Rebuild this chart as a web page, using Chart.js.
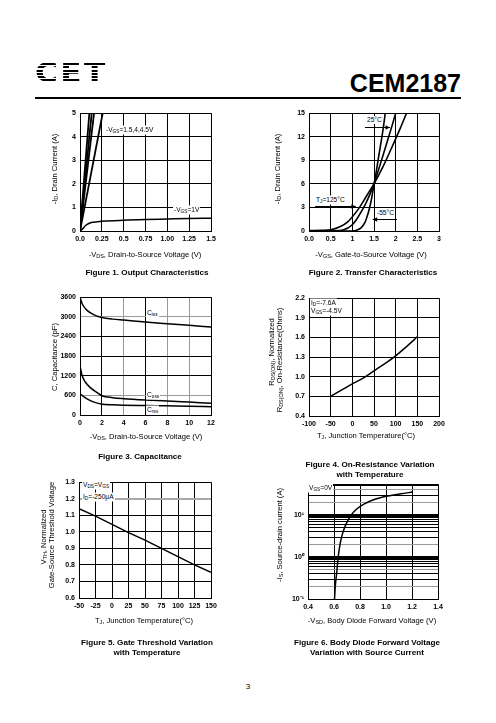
<!DOCTYPE html>
<html><head><meta charset="utf-8">
<script src="https://cdn.jsdelivr.net/npm/chart.js@4.4.1/dist/chart.umd.min.js"></script>
<style>
html,body{margin:0;padding:0;background:#fff}
body{width:496px;height:723px;position:relative;overflow:hidden;font-family:"Liberation Sans",Arial,sans-serif;color:#000}
canvas{position:absolute}
.t{position:absolute;white-space:nowrap;font-size:7.6px;line-height:1;transform:translate(-50%,-50%);color:#000}
.rot{transform:translate(-50%,-50%) rotate(-90deg)}
.cap{font-weight:bold;font-size:8.1px}
.lab{position:absolute;white-space:nowrap;font-size:6.6px;line-height:8px;background:#fff;padding:0 1px;transform:translateY(-50%);color:#000}
.s{font-size:72%;position:relative;top:1px}
#logo{position:absolute;left:35px;top:60px;font:900 26px "DejaVu Sans",sans-serif;letter-spacing:2px;line-height:26px;color:transparent;background:repeating-linear-gradient(to bottom,#000 0px,#000 2px,transparent 2px,transparent 3.2px);-webkit-background-clip:text;background-clip:text;transform:scaleX(1.2);transform-origin:0 0}
#part{position:absolute;right:35px;top:71px;font:bold 25px "Liberation Sans",Arial,sans-serif;line-height:1;color:#000}
#rule{position:absolute;left:35px;top:97px;width:426px;height:1.5px;background:#000}
#pg{position:absolute;left:248px;top:686px;font-size:8px;transform:translate(-50%,-50%);color:#000}
</style></head><body>
<div id="logo">CET</div>
<div id="part">CEM2187</div>
<div id="rule"></div>

<!-- Figure 1 texts -->
<div class="t rot" style="left:55px;top:169px">-I<span class="s">D</span>, Drain Current (A)</div>
<div class="t" style="left:145px;top:255px">-V<span class="s">DS</span>, Drain-to-Source Voltage (V)</div>
<div class="t cap" style="left:147px;top:273px">Figure 1. Output Characteristics</div>
<div class="lab" style="left:105px;top:130px">-V<span class="s">GS</span>=1.5,4,4.5V</div>
<div class="lab" style="left:173px;top:210px">-V<span class="s">GS</span>=1V</div>

<!-- Figure 2 texts -->
<div class="t rot" style="left:278px;top:169px">-I<span class="s">D</span>, Drain Current (A)</div>
<div class="t" style="left:371px;top:255px">-V<span class="s">GS</span>, Gate-to-Source Voltage (V)</div>
<div class="t cap" style="left:373px;top:273px">Figure 2. Transfer Characteristics</div>
<div class="lab" style="left:366px;top:120px">25°C</div>
<div class="lab" style="left:315px;top:200px">T<span class="s">J</span>=125°C</div>
<div class="lab" style="left:376px;top:213px">-55°C</div>

<!-- Figure 3 texts -->
<div class="t rot" style="left:55px;top:357px">C, Capacitance (pF)</div>
<div class="t" style="left:146px;top:437px">-V<span class="s">DS</span>, Drain-to-Source Voltage (V)</div>
<div class="t cap" style="left:140px;top:457px">Figure 3. Capacitance</div>
<div class="lab" style="left:146px;top:313px">C<span class="s">iss</span></div>
<div class="lab" style="left:146px;top:395px">C<span class="s">oss</span></div>
<div class="lab" style="left:146px;top:410px">C<span class="s">rss</span></div>

<!-- Figure 4 texts -->
<div class="t rot" style="left:272px;top:352px">R<span class="s">DS(ON)</span>, Normalized</div>
<div class="t rot" style="left:280px;top:360px">R<span class="s">DS(ON)</span>, On-Resistance(Ohms)</div>
<div class="t" style="left:366px;top:436px">T<span class="s">J</span>, Junction Temperature(°C)</div>
<div class="t cap" style="left:370px;top:465px">Figure 4. On-Resistance Variation</div>
<div class="t cap" style="left:370px;top:475px">with Temperature</div>
<div class="lab" style="left:310px;top:303px">I<span class="s">D</span>=-7.6A</div>
<div class="lab" style="left:310px;top:311px">V<span class="s">GS</span>=-4.5V</div>

<!-- Figure 5 texts -->
<div class="t rot" style="left:44px;top:537px">V<span class="s">TH</span>, Normalized</div>
<div class="t rot" style="left:52px;top:535px">Gate-Source Threshold Voltage</div>
<div class="t" style="left:144px;top:621px">T<span class="s">J</span>, Junction Temperature(°C)</div>
<div class="t cap" style="left:147px;top:643px">Figure 5. Gate Threshold Variation</div>
<div class="t cap" style="left:147px;top:653px">with Temperature</div>
<div class="lab" style="left:82px;top:485px">V<span class="s">DS</span>=V<span class="s">GS</span></div>
<div class="lab" style="left:82px;top:497px">I<span class="s">D</span>=-250μA</div>

<!-- Figure 6 texts -->
<div class="t rot" style="left:280px;top:535px">-I<span class="s">S</span>, Source-drain current (A)</div>
<div class="t" style="left:372px;top:621px">-V<span class="s">SD</span>, Body Diode Forward Voltage (V)</div>
<div class="t cap" style="left:367px;top:643px">Figure 6. Body Diode Forward Voltage</div>
<div class="t cap" style="left:367px;top:653px">Variation with Source Current</div>
<div class="lab" style="left:308px;top:488px">V<span class="s">GS</span>=0V</div>

<div id="pg">3</div>

<script>
// ---------------- DATA ----------------
// Figure 1: Output characteristics
const fig1Vds1V = [0, 0.03, 0.06, 0.1, 0.13, 0.2, 0.3, 0.5, 0.75, 1.0, 1.25, 1.5];
const fig1Id1V  = [0, 0.09, 0.22, 0.32, 0.36, 0.39, 0.42, 0.46, 0.49, 0.51, 0.53, 0.54];
const fig1SteepEndVds = [0.107, 0.134, 0.161, 0.26];   // -VDS where each high-VGS line reaches 5 A
const fig1SteepEndId  = [5, 5, 5, 5];
const fig1XTicks = [0, 0.25, 0.5, 0.75, 1.0, 1.25, 1.5];
const fig1XLabels = ['0.0', '0.25', '0.5', '0.75', '1.00', '1.25', '1.5'];
const fig1YTicks = [0, 1, 2, 3, 4, 5];
const fig1YLabels = ['0', '1', '2', '3', '4', '5'];

// Figure 2: Transfer characteristics
const fig2VgsM55 = [0, 1.0, 1.1, 1.2, 1.3, 1.35, 1.4, 1.45, 1.5, 1.55, 1.6, 1.65, 1.7, 1.76];
const fig2IdM55  = [0, 0, 0.1, 0.4, 1.2, 2.0, 3.0, 4.3, 5.9, 7.5, 9.2, 10.9, 12.6, 15];
const fig2Vgs25  = [0.5, 0.8, 1.0, 1.1, 1.2, 1.3, 1.4, 1.5, 1.6, 1.7, 1.8, 1.9, 2.0];
const fig2Id25   = [0, 0.15, 0.8, 1.5, 2.4, 3.4, 4.6, 6.0, 7.7, 9.5, 11.3, 13.1, 15];
const fig2Vgs125 = [0, 0.3, 0.5, 0.7, 0.9, 1.1, 1.2, 1.3, 1.4, 1.5, 1.7, 1.9, 2.1, 2.25];
const fig2Id125  = [0.05, 0.08, 0.15, 0.5, 1.2, 2.5, 3.3, 4.2, 5.1, 6.0, 8.1, 10.5, 13.0, 15];
const fig2XTicks = [0, 0.5, 1, 1.5, 2, 2.5, 3];
const fig2XLabels = ['0.0', '0.5', '1', '1.5', '2', '2.5', '3'];
const fig2YTicks = [0, 3, 6, 9, 12, 15];
const fig2YLabels = ['0', '3', '6', '9', '12', '15'];
// arrows: [x1, y1, x2, y2] in data units
const fig2Arrow25  = [1.29, 13.3, 1.87, 13.3];
const fig2Arrow125 = [0.14, 3.2, 1.08, 3.2];
const fig2ArrowM55 = [2.03, 1.5, 1.47, 1.5];

// Figure 3: Capacitance
const fig3Vds  = [0, 0.2, 0.5, 1, 1.5, 2, 3, 4, 6, 8, 10, 12];
const fig3Ciss = [3600, 3400, 3250, 3110, 3030, 2980, 2930, 2900, 2840, 2790, 2740, 2690];
const fig3Coss = [1500, 1200, 1000, 820, 700, 590, 530, 500, 460, 430, 395, 360];
const fig3Crss = [650, 600, 520, 430, 370, 330, 310, 300, 290, 280, 270, 255];
const fig3XTicks = [0, 2, 4, 6, 8, 10, 12];
const fig3XLabels = ['0', '2', '4', '6', '8', '10', '12'];
const fig3YTicks = [0, 600, 1200, 1800, 2400, 3000, 3600];
const fig3YLabels = ['0', '600', '1200', '1800', '2400', '3000', '3600'];
const fig3GrayX = [4, 8, 10];
const fig3GrayY = [600, 3000];

// Figure 4: On-resistance vs temperature
const fig4Tj  = [-50, 0, 25, 50, 75, 100, 125, 150];
const fig4Rds = [0.70, 0.89, 0.98, 1.09, 1.20, 1.32, 1.46, 1.61];
const fig4XTicks = [-100, -50, 0, 50, 100, 150, 200];
const fig4XLabels = ['-100', '-50', '0', '50', '100', '150', '200'];
const fig4YTicks = [0.4, 0.7, 1.0, 1.3, 1.6, 1.9, 2.2];
const fig4YLabels = ['0.4', '0.7', '1.0', '1.3', '1.6', '1.9', '2.2'];

// Figure 5: Gate threshold vs temperature
const fig5Tj  = [-50, -25, 0, 25, 50, 75, 100, 125, 150];
const fig5Vth = [1.14, 1.095, 1.045, 0.995, 0.95, 0.90, 0.85, 0.80, 0.755];
const fig5XTicks = [-50, -25, 0, 25, 50, 75, 100, 125, 150];
const fig5XLabels = ['-50', '-25', '0', '25', '50', '75', '100', '125', '150'];
const fig5YTicks = [0.6, 0.7, 0.8, 0.9, 1.0, 1.1, 1.2, 1.3];
const fig5YLabels = ['0.6', '0.7', '0.8', '0.9', '1.0', '1.1', '1.2', '1.3'];

// Figure 6: Body diode forward voltage
const fig6Vsd = [0.604, 0.611, 0.622, 0.630, 0.642, 0.660, 0.686, 0.726, 0.770, 0.834, 0.910, 1.013, 1.114, 1.204];
const fig6Is  = [0.1, 0.22, 0.46, 0.87, 1.66, 3.16, 5.5, 9.5, 13.7, 18.7, 23.8, 28.7, 32.5, 35.7];
const fig6XTicks = [0.4, 0.6, 0.8, 1.0, 1.2, 1.4];
const fig6XLabels = ['0.4', '0.6', '0.8', '1.0', '1.2', '1.4'];
const fig6YTicks = [0.1, 0.2, 0.3, 0.4, 0.5, 0.6, 0.7, 0.8, 0.9, 1, 2, 3, 4, 5, 6, 7, 8, 9, 10, 20, 30, 40, 50, 55];
const fig6YLabelVals = [0.1, 1, 10];
const fig6YLabels = ['10\u207B\u00B9', '10\u2070', '10\u00B9'];
const fig6GrayY = [0.2, 0.5, 2, 20, 40];

// ---------------- HELPERS ----------------
Chart.defaults.font.family = '"Liberation Sans", Arial, sans-serif';
Chart.defaults.font.size = 7;
Chart.defaults.color = '#000';
Chart.defaults.animation = false;

const pts = (xs, ys) => xs.map((x, i) => ({x: x, y: ys[i]}));

function axis(type, ticks, labelFn, min, max, grid) {
  return {
    type: type, min: min, max: max,
    afterBuildTicks: s => { s.ticks = ticks.map(v => ({value: v})); },
    ticks: { autoSkip: false, maxRotation: 0, minRotation: 0, padding: 4,
             font: {size: 7, weight: 'bold'}, color: '#000', callback: labelFn },
    grid: Object.assign({ color: '#000', lineWidth: 1, drawTicks: false }, grid || {}),
    border: { display: true, color: '#000', width: 1 }
  };
}
const idx = labels => (v, i) => labels[i];

function ds(data, w, tension) {
  return { data: data, borderColor: '#000', borderWidth: w, pointRadius: 0, fill: false,
           tension: tension, cubicInterpolationMode: tension ? 'monotone' : 'default' };
}

const arrowPlugin = {
  id: 'arrows',
  afterDatasetsDraw(chart, args, opts) {
    const list = opts.list || [];
    const ctx = chart.ctx, xs = chart.scales.x, ys = chart.scales.y;
    ctx.save(); ctx.strokeStyle = '#000'; ctx.fillStyle = '#000'; ctx.lineWidth = 1;
    list.forEach(a => {
      const x1 = xs.getPixelForValue(a[0]), y1 = Math.round(ys.getPixelForValue(a[1])) + 0.5;
      const x2 = xs.getPixelForValue(a[2]), y2 = Math.round(ys.getPixelForValue(a[3])) + 0.5;
      ctx.beginPath(); ctx.moveTo(x1, y1); ctx.lineTo(x2, y2); ctx.stroke();
      const ang = Math.atan2(y2 - y1, x2 - x1), L = 5;
      ctx.beginPath(); ctx.moveTo(x2, y2);
      ctx.lineTo(x2 - L * Math.cos(ang - 0.45), y2 - L * Math.sin(ang - 0.45));
      ctx.lineTo(x2 - L * Math.cos(ang + 0.45), y2 - L * Math.sin(ang + 0.45));
      ctx.closePath(); ctx.fill();
    });
    ctx.restore();
  }
};

function mk(rect, xAx, yAx, datasets, arrows) {
  const padL = 34, padR = 14, padT = 8, padB = 22;
  const c = document.createElement('canvas');
  c.width = rect.w + padL + padR; c.height = rect.h + padT + padB;
  c.style.left = (rect.x - padL) + 'px'; c.style.top = (rect.y - padT) + 'px';
  document.body.insertBefore(c, document.body.firstChild);
  xAx.afterFit = s => { s.height = padB; };
  yAx.afterFit = s => { s.width = padL; };
  return new Chart(c, {
    type: 'line',
    data: { datasets: datasets },
    options: {
      responsive: false, animation: false, devicePixelRatio: 1,
      layout: { padding: { top: padT, right: padR, left: 0, bottom: 0 } },
      plugins: { legend: { display: false }, tooltip: { enabled: false }, arrows: { list: arrows || [] } },
      scales: { x: xAx, y: yAx }
    },
    plugins: [arrowPlugin]
  });
}

// ---------------- CHARTS ----------------
// Figure 1
mk({x: 80, y: 113, w: 131, h: 118},
   axis('linear', fig1XTicks, idx(fig1XLabels), 0, 1.5),
   axis('linear', fig1YTicks, idx(fig1YLabels), 0, 5),
   fig1SteepEndVds.map((v, i) => ds([{x: 0, y: 0}, {x: v, y: fig1SteepEndId[i]}], 1.8, 0))
     .concat([ds(pts(fig1Vds1V, fig1Id1V), 1.5, 0.4)]));

// Figure 2
mk({x: 309, y: 113, w: 130, h: 118},
   axis('linear', fig2XTicks, idx(fig2XLabels), 0, 3),
   axis('linear', fig2YTicks, idx(fig2YLabels), 0, 15),
   [ds(pts(fig2VgsM55, fig2IdM55), 1.6, 0.4),
    ds(pts(fig2Vgs25, fig2Id25), 1.6, 0.4),
    ds(pts(fig2Vgs125, fig2Id125), 1.6, 0.4)],
   [fig2Arrow25, fig2Arrow125, fig2ArrowM55]);

// Figure 3
const gc3x = ctx => fig3GrayX.includes(ctx.tick && ctx.tick.value) ? '#9a9a9a' : '#000';
const gc3y = ctx => fig3GrayY.includes(ctx.tick && ctx.tick.value) ? '#9a9a9a' : '#000';
mk({x: 80, y: 297, w: 131, h: 118},
   axis('linear', fig3XTicks, idx(fig3XLabels), 0, 12, {color: gc3x}),
   axis('linear', fig3YTicks, idx(fig3YLabels), 0, 3600, {color: gc3y}),
   [ds(pts(fig3Vds, fig3Ciss), 1.5, 0.4),
    ds(pts(fig3Vds, fig3Coss), 1.5, 0.4),
    ds(pts(fig3Vds, fig3Crss), 1.5, 0.4)]);

// Figure 4
mk({x: 309, y: 298, w: 130, h: 118},
   axis('linear', fig4XTicks, idx(fig4XLabels), -100, 200),
   axis('linear', fig4YTicks, idx(fig4YLabels), 0.4, 2.2),
   [ds(pts(fig4Tj, fig4Rds), 1.5, 0.4)]);

// Figure 5
const gc5y = ctx => (ctx.tick && ctx.tick.value === 1.2) ? '#a8a8a8' : '#000';
const lw5y = ctx => (ctx.tick && ctx.tick.value === 1.2) ? 2 : 1;
mk({x: 79, y: 482, w: 132, h: 116},
   axis('linear', fig5XTicks, idx(fig5XLabels), -50, 150),
   axis('linear', fig5YTicks, idx(fig5YLabels), 0.6, 1.3, {color: gc5y, lineWidth: lw5y}),
   [ds(pts(fig5Tj, fig5Vth), 1.5, 0)]);

// Figure 6
const gc6y = ctx => fig6GrayY.includes(ctx.tick && ctx.tick.value) ? '#9a9a9a' : '#000';
const lw6y = ctx => (ctx.tick && (ctx.tick.value === 1 || ctx.tick.value === 10)) ? 3 : 1;
mk({x: 308, y: 484, w: 130, h: 115},
   axis('linear', fig6XTicks, idx(fig6XLabels), 0.4, 1.4),
   axis('logarithmic', fig6YTicks, v => { const k = fig6YLabelVals.indexOf(v); return k >= 0 ? fig6YLabels[k] : ''; }, 0.1, 55,
        {color: gc6y, lineWidth: lw6y}),
   [ds(pts(fig6Vsd, fig6Is), 1.5, 0.4)]);
</script>
</body></html>
